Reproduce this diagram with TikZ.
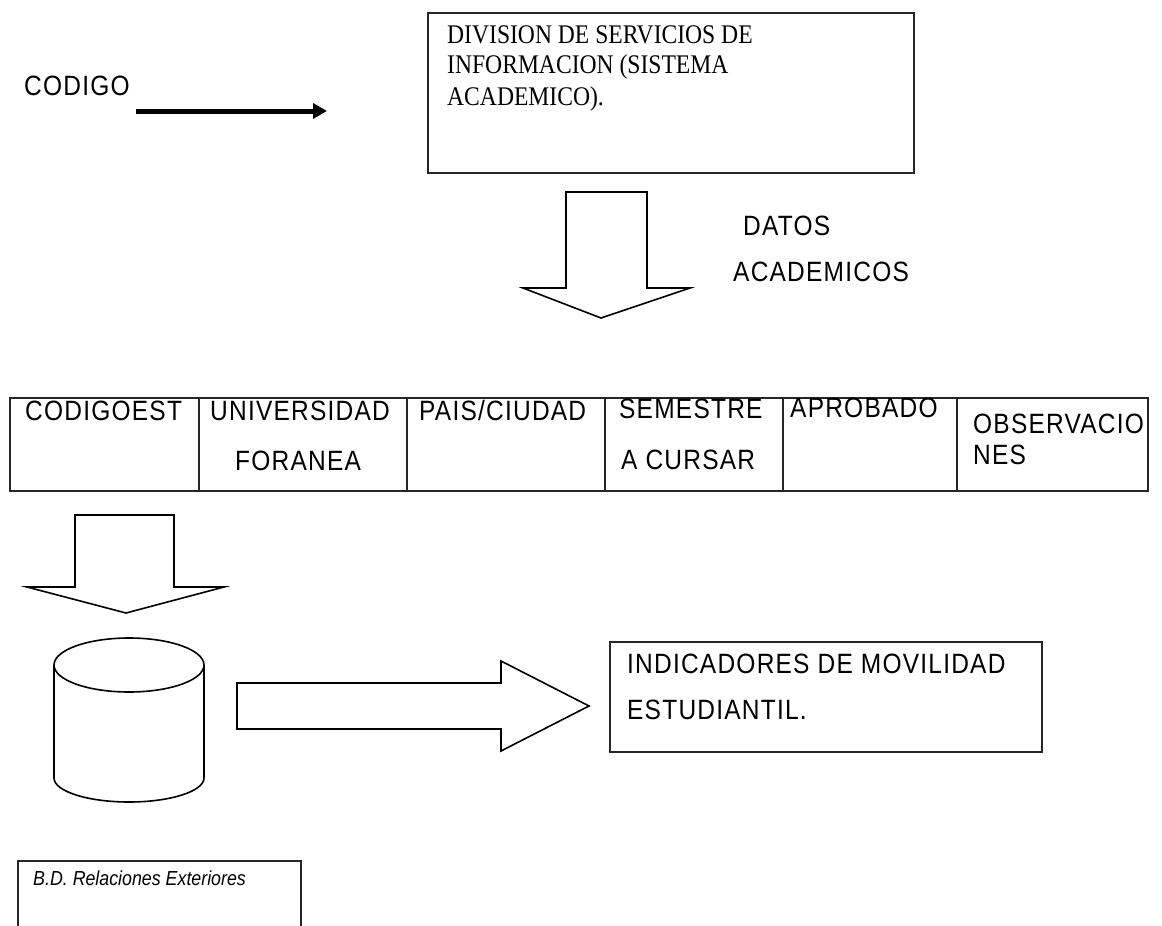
\documentclass[tikz,border=0pt]{standalone}
\usepackage{fontspec}
\usepackage{graphicx}
\setmainfont{Liberation Serif}
\setsansfont{Liberation Sans}
\usetikzlibrary{arrows.meta}
\newfontfamily\lbl[LetterSpace=5]{Liberation Sans}
\newfontfamily\lblplain{Liberation Sans}
\newcommand\vstretch[1]{\scalebox{1}[1.14]{#1}}
\tikzset{
  box/.style={draw=black!85, line width=1.8pt, inner sep=0pt, anchor=north west},
  cell/.style={draw=black!85, line width=1.7pt, inner sep=0pt, anchor=north west, minimum height=93pt},
  blk/.style={draw=black, line width=1.6pt, line join=miter},
  sans/.style={inner sep=0pt, anchor=base west, font=\lbl\fontsize{24.5}{28}\selectfont},
  serif/.style={inner sep=0pt, anchor=base west, font=\rmfamily\fontsize{23.6}{28}\selectfont},
  small/.style={inner sep=0pt, anchor=base west, font=\lblplain\itshape\fontsize{17.8}{20}\selectfont},
}
\begin{document}
\begin{tikzpicture}[x=1pt,y=-1pt]
\useasboundingbox[fill=white] (0,0) rectangle (1162,926);

% CODIGO and arrow
\node[sans] (codigo) at (24,95) {\vstretch{CODIGO}};
\coordinate (ca) at (136,111);
\coordinate (cb) at (327,111);
\draw[line width=5pt, -{Triangle[length=14pt,width=15pt]}] (ca) -- (cb);

% Sistema academico box
\node[box, minimum width=486pt, minimum height=160pt] (sis) at (427,12) {};
\node[serif] (s1) at (447,43) {\vstretch{DIVISION DE SERVICIOS DE}};
\node[serif] (s2) at (447,73) {\vstretch{INFORMACION (SISTEMA}};
\node[serif] (s3) at (447,105) {\vstretch{ACADEMICO).}};

% block arrow down 1
\draw[blk] (566,192) -- (647,192) -- (647,288) -- (690,288) -- (601,318) -- (523,288) -- (566,288) -- cycle;
\node[sans] (datos) at (743,235) {\vstretch{DATOS}};
\node[sans] (acad) at (733,281) {\vstretch{ACADEMICOS}};

% table
\node[cell, minimum width=189pt] (c1) at (9,397) {};
\node[cell, minimum width=208pt] (c2) at (198,397) {};
\node[cell, minimum width=198pt] (c3) at (406,397) {};
\node[cell, minimum width=178pt] (c4) at (604,397) {};
\node[cell, minimum width=174pt] (c5) at (782,397) {};
\node[cell, minimum width=191pt] (c6) at (956,397) {};
\node[sans] (t1) at (25,420) {\vstretch{CODIGOEST}};
\node[sans] (t2a) at (210,420) {\vstretch{UNIVERSIDAD}};
\node[sans] (t2b) at (235,470) {\vstretch{FORANEA}};
\node[sans] (t3) at (419,420) {\vstretch{PAIS/CIUDAD}};
\node[sans] (t4a) at (619,418) {\vstretch{SEMESTRE}};
\node[sans] (t4b) at (621,469) {\vstretch{A CURSAR}};
\node[sans] (t5) at (790,417) {\vstretch{APROBADO}};
\node[sans] (t6a) at (973,433) {\vstretch{OBSERVACIO}};
\node[sans] (t6b) at (973,464) {\vstretch{NES}};

% block arrow down 2
\draw[blk] (75,515) -- (174,515) -- (174,587) -- (224,587) -- (126,613) -- (27,587) -- (75,587) -- cycle;

% cylinder
\draw[blk] (54,665) -- (54,778) arc[start angle=180, end angle=360, x radius=75pt, y radius=24pt] -- (204,665);
\draw[blk] (129,665) ellipse [x radius=75pt, y radius=27pt];

% block arrow right
\draw[blk] (237,683) -- (501,683) -- (501,661) -- (589,706) -- (501,751) -- (501,729) -- (237,729) -- cycle;

% indicadores box
\node[box, minimum width=432pt, minimum height=110pt] (ind) at (609,641) {};
\node[sans] (i1) at (627,673) {\vstretch{INDICADORES DE MOVILIDAD}};
\node[sans] (i2) at (627,719) {\vstretch{ESTUDIANTIL.}};

% BD box
\node[box, minimum width=283pt, minimum height=90pt] (bd) at (17,860) {};
\node[small] (bdt) at (33,885) {\vstretch{B.D. Relaciones Exteriores}};
\end{tikzpicture}
\end{document}
